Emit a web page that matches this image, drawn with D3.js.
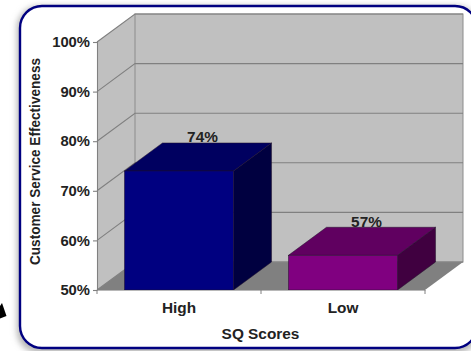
<!DOCTYPE html>
<html>
<head>
<meta charset="utf-8">
<script src="https://cdn.jsdelivr.net/npm/d3@7"></script>
<style>
html,body{margin:0;padding:0;background:#fff;overflow:hidden}
svg{display:block}
text{font-family:"Liberation Sans",Arial,sans-serif;font-weight:bold;fill:#222}
</style>
</head>
<body>
<div id="chart"></div>
<script>
// Chart content
const categories = ["High", "Low"];
const scores = [74, 57];
const yTicks = [50, 60, 70, 80, 90, 100];
const frontColors = ["#000080", "#800080"];
const topColors = ["#000060", "#600060"];
const sideColors = ["#000040", "#400040"];
const xTitle = "SQ Scores";
const yTitle = "Customer Service Effectiveness";

const width = 471, height = 351;
// Oblique projection offset of the back plane relative to the front plane
const dx = 38, dy = -28;

const svg = d3.select("#chart").append("svg").attr("width", width).attr("height", height);

const x = d3.scaleBand().domain(categories).range([97, 425]).paddingInner(0.335).paddingOuter(0.1675);
const y = d3.scaleLinear().domain([50, 100]).range([290, 42]);
const line = d3.line();

// Stretches a text selection along its baseline by the factor k
function widen(sel, k) {
  sel.each(function () {
    d3.select(this).attr("textLength", this.getComputedTextLength() * k).attr("lengthAdjust", "spacingAndGlyphs");
  });
}

// Rounded panel with a soft shadow
const defs = svg.append("defs");
defs.append("filter").attr("id", "soft").attr("x", "-10%").attr("y", "-10%").attr("width", "120%").attr("height", "120%")
  .append("feGaussianBlur").attr("stdDeviation", 3);
svg.append("rect").attr("x", 17).attr("y", 6).attr("width", 462).attr("height", 347).attr("rx", 22)
  .attr("fill", "#b4b4b4").attr("filter", "url(#soft)");
svg.append("rect").attr("x", 20).attr("y", 6).attr("width", 457).attr("height", 342).attr("rx", 22)
  .attr("fill", "#fff").attr("stroke", "#000080").attr("stroke-width", 2.4);

// Corner pointer at the lower left
svg.append("path").attr("d", "M0,306L2,303L6.5,316L0,318.5Z").attr("fill", "#000");

// Chart box: left wall, floor, back wall
const [xL, xR] = x.range();
const [y0, y1] = y.range();
const wall = svg.append("g");
wall.append("path").attr("d", line([[xL, y1], [xL + dx, y1 + dy], [xL + dx, y0 + dy], [xL, y0]]) + "Z").attr("fill", "#c0c0c0");
wall.append("path").attr("d", line([[xL, y0], [xL + dx, y0 + dy], [xR + dx, y0 + dy], [xR, y0]]) + "Z").attr("fill", "#808080");
wall.append("rect").attr("x", xL + dx).attr("y", y1 + dy).attr("width", xR - xL).attr("height", y0 - y1).attr("fill", "#c0c0c0")
  .attr("stroke", "#8c8c8c").attr("stroke-width", 1);

// Gridlines wrap from the left wall onto the back wall
const grid = svg.append("g").attr("fill", "none").attr("stroke", "#808080").attr("stroke-width", 1.1);
grid.selectAll("path").data(yTicks).join("path")
  .attr("d", d => line([[xL, y(d)], [xL + dx, y(d) + dy], [xR + dx, y(d) + dy]]));

// Bars: side, top and front faces
const bars = svg.append("g").selectAll("g").data(categories).join("g");
const bw = x.bandwidth();
const val = i => scores[i];
bars.append("path").attr("fill", (d, i) => sideColors[i]).attr("stroke", "#20102a").attr("stroke-width", 0.5)
  .attr("d", (d, i) => {
    const r = x(d) + bw, t = y(val(i));
    return line([[r, t], [r + dx, t + dy], [r + dx, y0 + dy], [r, y0]]) + "Z";
  });
bars.append("path").attr("fill", (d, i) => topColors[i]).attr("stroke", "#20102a").attr("stroke-width", 0.5)
  .attr("d", (d, i) => {
    const l = x(d), r = l + bw, t = y(val(i));
    return line([[l, t], [l + dx, t + dy], [r + dx, t + dy], [r, t]]) + "Z";
  });
bars.append("rect").attr("fill", (d, i) => frontColors[i]).attr("stroke", "#20102a").attr("stroke-width", 0.5)
  .attr("x", d => x(d)).attr("width", bw)
  .attr("y", (d, i) => y(val(i))).attr("height", (d, i) => y0 - y(val(i)));

// Value labels sit over the back edge of each bar top
bars.append("text").attr("text-anchor", "middle").attr("font-size", 14.5)
  .attr("x", d => x(d) + bw / 2 + 23.5)
  .attr("y", (d, i) => y(val(i)) + dy)
  .attr("dy", "-0.5")
  .text((d, i) => `${val(i)}%`)
  .call(widen, 1.06);

// Axes
const yAxis = svg.append("g").attr("transform", `translate(${xL},0)`)
  .call(d3.axisLeft(y).tickValues(yTicks).tickFormat(d => `${d}%`).tickSize(4).tickPadding(3));
yAxis.selectAll("path,line").attr("stroke", "#808080").attr("stroke-width", 1.1);
yAxis.selectAll("text").attr("font-size", 14.5).attr("font-family", null).call(widen, 1.02);

const boundaries = d3.scaleLinear().domain([0, categories.length]).range([xL, xR]);
const xAxis = svg.append("g").attr("transform", `translate(0,${y0})`)
  .call(d3.axisBottom(x).tickSize(0).tickPadding(13));
xAxis.select(".domain").attr("stroke", "#b8b8b8").attr("stroke-width", 1.2);
xAxis.selectAll("text").attr("font-size", 14.5).attr("font-family", null).call(widen, 1.06);
svg.append("g").attr("stroke", "#808080").attr("stroke-width", 1)
  .selectAll("line").data(d3.range(categories.length + 1)).join("line")
  .attr("x1", d => boundaries(d)).attr("x2", d => boundaries(d))
  .attr("y1", y0).attr("y2", y0 + 4);

// Axis titles
svg.append("text").attr("text-anchor", "middle").attr("font-size", 14.5)
  .attr("x", 260.5).attr("y", 338.5).text(xTitle).call(widen, 1.06);
svg.append("text").attr("text-anchor", "middle").attr("font-size", 14)
  .attr("transform", "translate(39.5,161.5) rotate(-90)").text(yTitle)
  .attr("textLength", 207).attr("lengthAdjust", "spacingAndGlyphs");
</script>
</body>
</html>
